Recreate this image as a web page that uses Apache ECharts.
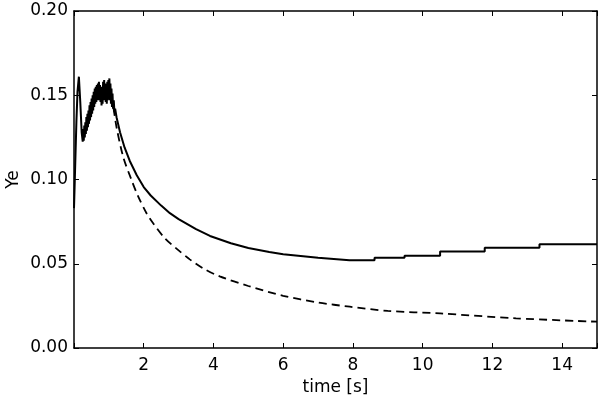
<!DOCTYPE html>
<html>

<head>
  <title>Ye vs time</title>
  <script src="https://cdn.jsdelivr.net/npm/echarts@6/dist/echarts.min.js"></script>
</head>

<body style="margin:0">
  <div id="main" style="width: 600px;height:398px;"></div>
  <script>
    // solid curve (noisy start, smooth decay, then steps)
    var solidTime = [0, 0.03, 0.07, 0.1, 0.14, 0.18, 0.22, 0.25,
      0.265, 0.280, 0.295, 0.310, 0.325, 0.340, 0.355, 0.370, 0.385, 0.400, 0.415, 0.430, 0.445, 0.460, 0.475, 0.490,
      0.505, 0.520, 0.535, 0.550, 0.565, 0.580, 0.595, 0.610, 0.625, 0.640, 0.655, 0.670, 0.685, 0.700, 0.715, 0.730,
      0.745, 0.760, 0.775, 0.790, 0.805, 0.820, 0.835, 0.850, 0.865, 0.880, 0.895, 0.910, 0.925, 0.940, 0.955, 0.970,
      0.985, 1.000, 1.015, 1.030, 1.045, 1.060, 1.075, 1.090, 1.105, 1.120, 1.140, 1.160, 1.180, 1.22,
      1.32, 1.45, 1.6, 1.8, 2.0, 2.2, 2.5, 2.75, 3.0, 3.5, 3.9, 4.5, 5.0, 5.6, 6.0, 7.0, 7.9,
      8.62, 8.62, 9.48, 9.48, 10.5, 10.5, 11.78, 11.78, 13.35, 13.35, 15];
    var solidYe = [0.083, 0.105, 0.135, 0.152, 0.161, 0.146, 0.128, 0.1225,
      0.130, 0.123, 0.132, 0.125, 0.134, 0.127, 0.137, 0.129, 0.139, 0.131, 0.141, 0.133, 0.144, 0.135, 0.146, 0.137,
      0.148, 0.139, 0.150, 0.141, 0.152, 0.143, 0.154, 0.145, 0.155, 0.146, 0.156, 0.147, 0.157, 0.147, 0.158, 0.148,
      0.156, 0.146, 0.155, 0.144, 0.154, 0.145, 0.158, 0.147, 0.159, 0.148, 0.157, 0.146, 0.156, 0.145, 0.158, 0.147,
      0.159, 0.148, 0.160, 0.147, 0.157, 0.145, 0.154, 0.143, 0.151, 0.142, 0.147, 0.140, 0.142, 0.137,
      0.128, 0.119, 0.111, 0.1025, 0.0955, 0.0905, 0.0845, 0.080, 0.0765, 0.0705, 0.0665, 0.0622, 0.0593, 0.057, 0.0557, 0.0535, 0.0521,
      0.0521, 0.0536, 0.0536, 0.0548, 0.0548, 0.0572, 0.0572, 0.0595, 0.0595, 0.0615, 0.0615];

    // dashed curve
    var dashTime = [1.05, 1.12, 1.22, 1.41, 1.65, 1.84, 2.08, 2.27, 2.61, 2.94, 3.32, 3.7, 4.18, 5.0, 6.0, 7.0, 7.91, 9.0, 10.5, 12.68, 15];
    var dashYe = [0.150, 0.144, 0.131, 0.1135, 0.0997, 0.090, 0.080, 0.074, 0.065, 0.059, 0.0526, 0.0473, 0.0425, 0.0368, 0.031, 0.027, 0.0245, 0.022, 0.0205, 0.0176, 0.0156];

    var xTicks = [2, 4, 6, 8, 10, 12, 14];

    var font = 'DejaVu Sans';
    var black = '#000';

    function pairs(xs, ys) {
      return xs.map((x, i) => [x, ys[i]]);
    }

    var myChart = echarts.init(document.getElementById('main'));
    var axisLine = { show: true, onZero: false, lineStyle: { color: black, width: 1.5 } };
    var axisTick = { show: true, inside: true, length: 5, lineStyle: { color: black, width: 1 } };

    var option = {
      animation: false,
      backgroundColor: '#fff',
      grid: { left: 74, right: 3, top: 11, bottom: 50, containLabel: false, outerBoundsMode: 'none' },
      xAxis: [{
        type: 'value',
        min: 0,
        max: 15,
        interval: 2,
        name: 'time [s]',
        nameLocation: 'middle',
        nameGap: 23,
        nameMoveOverlap: false,
        nameTextStyle: { fontFamily: font, fontSize: 17, color: black },
        axisLine: axisLine,
        axisTick: axisTick,
        splitLine: { show: false },
        axisLabel: {
          fontFamily: font, fontSize: 17, color: black, margin: 1,
          formatter: v => xTicks.indexOf(v) >= 0 ? String(v) : ''
        }
      }, {
        type: 'value',
        position: 'top',
        min: 0,
        max: 15,
        interval: 2,
        axisLine: axisLine,
        axisTick: axisTick,
        splitLine: { show: false },
        axisLabel: { show: false }
      }],
      yAxis: [{
        type: 'value',
        min: 0,
        max: 0.2,
        interval: 0.05,
        name: 'Ye',
        nameLocation: 'middle',
        nameGap: 44,
        nameMoveOverlap: false,
        nameTextStyle: { fontFamily: font, fontSize: 17, color: black },
        axisLine: axisLine,
        axisTick: axisTick,
        splitLine: { show: false },
        axisLabel: {
          fontFamily: font, fontSize: 17, color: black, margin: 6,
          formatter: v => v.toFixed(2)
        }
      }, {
        type: 'value',
        position: 'right',
        min: 0,
        max: 0.2,
        interval: 0.05,
        axisLine: axisLine,
        axisTick: axisTick,
        splitLine: { show: false },
        axisLabel: { show: false }
      }],
      series: [
        {
          name: 'dashed',
          type: 'line',
          data: pairs(dashTime, dashYe),
          smooth: 0.3,
          showSymbol: false,
          lineStyle: { color: black, width: 1.8, type: [8, 5] }
        },
        {
          name: 'solid',
          type: 'line',
          data: pairs(solidTime, solidYe),
          showSymbol: false,
          lineStyle: { color: black, width: 2 }
        }
      ]
    };
    myChart.setOption(option);
  </script>
</body>

</html>
